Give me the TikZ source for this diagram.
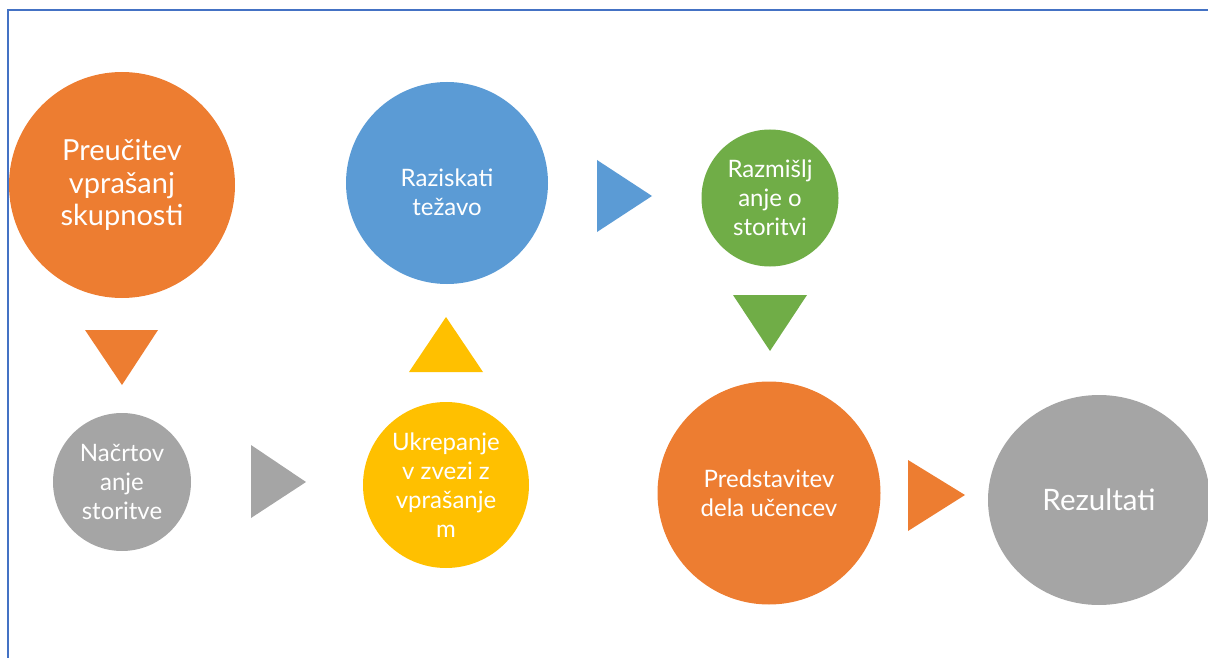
\documentclass[tikz,border=0pt]{standalone}
\usepackage{fontspec}
\setmainfont{Lato}
\usetikzlibrary{shapes.geometric}
\definecolor{corange}{HTML}{ED7D31}
\definecolor{cgray}{HTML}{A5A5A5}
\definecolor{cyellow}{HTML}{FFC000}
\definecolor{cblue}{HTML}{5B9BD5}
\definecolor{cgreen}{HTML}{70AD47}
\definecolor{cframe}{HTML}{4472C4}
\tikzset{
  blob/.style={circle, inner sep=0pt, text=white, align=center},
  txtA/.style={font=\fontsize{29}{32.5}\selectfont},
  txtB/.style={font=\fontsize{24}{29}\selectfont},
}
\begin{document}
\begin{tikzpicture}[x=1pt,y=-1pt]
\useasboundingbox (0,0) rectangle (1208,658);
\clip (0,0) rectangle (1208,658);
\draw[cframe, line width=2pt] (1210,10) -- (8,10) -- (8,660);
% circles
\node[blob, txtA, fill=corange, minimum size=226pt] (c1) at (122,185) {Preučitev\\vprašanj\\skupnosti};
\node[blob, txtB, fill=cgray, minimum size=138pt] (c2) at (122,482) {Načrtov\\anje\\storitve};
\node[blob, txtB, fill=cyellow, minimum size=166pt] (c3) at (446,485) {Ukrepanje\\v zvezi z\\vprašanje\\m};
\node[blob, txtB, fill=cblue, minimum size=202pt] (c4) at (447,183) {\raisebox{-18pt}[0pt][0pt]{\begin{tabular}{@{}c@{}}Raziskati\\težavo\end{tabular}}};
\node[blob, txtB, fill=cgreen, minimum size=137pt] (c5) at (770,198) {Razmišlj\\anje o\\storitvi};
\node[blob, txtB, fill=corange, minimum size=223pt] (c6) at (769,493) {Predstavitev\\dela učencev};
\node[ellipse, inner sep=0pt, text=white, fill=cgray, minimum width=222pt, minimum height=210pt, font=\fontsize{29.5}{33}\selectfont] (c7) at (1099,500) {Rezultati};
% arrows (triangles)
\fill[corange] (85,330) -- (158,330) -- (122,385) -- cycle;
\fill[cgray] (251,445) -- (306,482) -- (251,518) -- cycle;
\fill[cyellow] (409,372) -- (483,372) -- (446,317) -- cycle;
\fill[cblue] (597,160) -- (652,196) -- (597,232) -- cycle;
\fill[cgreen] (733,295) -- (807,295) -- (770,351) -- cycle;
\fill[corange] (908,460) -- (965,495) -- (908,531) -- cycle;
\end{tikzpicture}
\end{document}
